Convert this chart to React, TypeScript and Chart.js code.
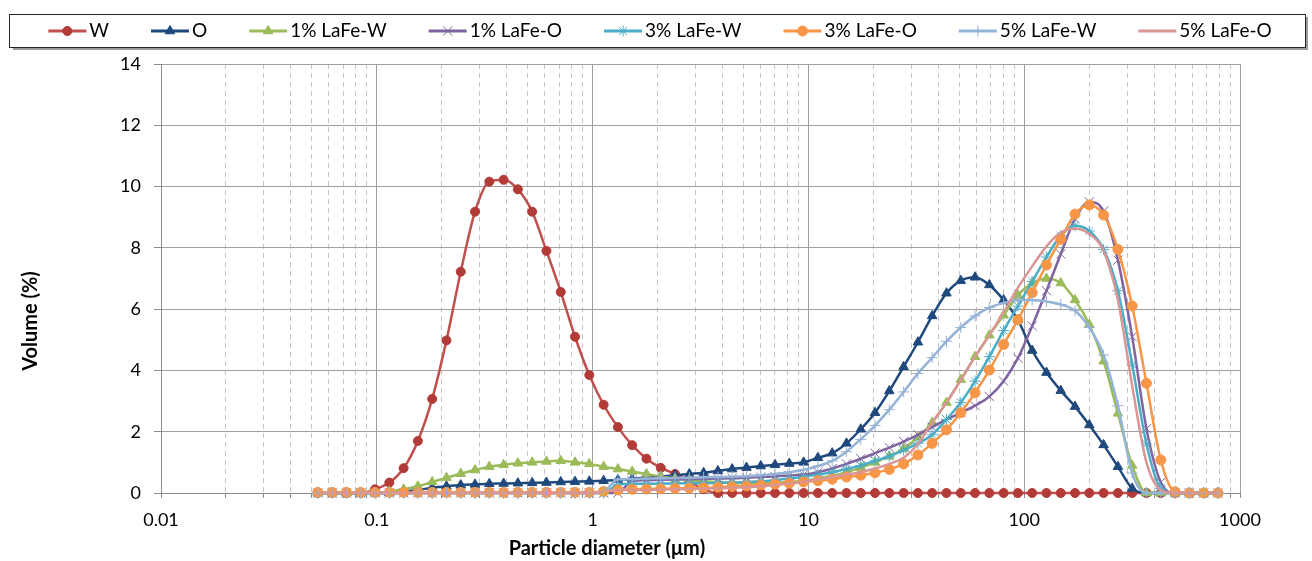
import React, { useEffect, useRef } from 'react';
import { Chart, registerables } from 'chart.js';

Chart.register(...registerables);

// ---- DATA ----
const sizes = [
  0.0533, 0.0621, 0.0723, 0.0843, 0.0981, 0.1143, 0.1331, 0.155, 0.1806, 0.2103,
  0.2449, 0.2852, 0.3322, 0.3869, 0.4506, 0.5248, 0.6112, 0.7118, 0.829, 0.9656,
  1.125, 1.31, 1.525, 1.777, 2.069, 2.41, 2.807, 3.269, 3.807, 4.434,
  5.164, 6.015, 7.005, 8.158, 9.502, 11.07, 12.89, 15.01, 17.48, 20.36,
  23.71, 27.62, 32.17, 37.46, 43.63, 50.82, 59.18, 68.93, 80.28, 93.5,
  108.9, 126.8, 147.7, 172.0, 200.3, 233.3, 271.8, 316.5, 368.6, 429.4,
  500.0, 582.4, 678.2, 789.9,
];

const seriesW = [
  0, 0, 0, 0, 0.12, 0.34, 0.81, 1.7, 3.07, 4.98,
  7.22, 9.18, 10.16, 10.22, 9.91, 9.18, 7.9, 6.56, 5.1, 3.85,
  2.88, 2.15, 1.56, 1.12, 0.82, 0.62, 0.38, 0.12, 0, 0,
  0, 0, 0, 0, 0, 0, 0, 0, 0, 0,
  0, 0, 0, 0, 0, 0, 0, 0, 0, 0,
  0, 0, 0, 0, 0, 0, 0, 0, 0, 0,
  0, 0, 0, 0,
];
const seriesO = [
  0, 0, 0, 0, 0, 0, 0.05, 0.1, 0.17, 0.22,
  0.26, 0.28, 0.3, 0.31, 0.32, 0.33, 0.34, 0.36, 0.37, 0.38,
  0.4, 0.43, 0.46, 0.5, 0.54, 0.58, 0.62, 0.66, 0.72, 0.78,
  0.83, 0.88, 0.92, 0.96, 1.0, 1.15, 1.3, 1.62, 2.08, 2.62,
  3.33, 4.12, 4.92, 5.78, 6.52, 6.93, 7.04, 6.79, 6.3, 5.65,
  4.65, 3.93, 3.34, 2.82, 2.22, 1.57, 0.86, 0.15, 0, 0,
  0, 0, 0, 0,
];
const series1W = [
  0, 0, 0, 0, 0, 0.05, 0.12, 0.22, 0.36, 0.5,
  0.63, 0.75, 0.86, 0.92, 0.97, 1.0, 1.03, 1.05, 1.0, 0.95,
  0.86, 0.78, 0.7, 0.62, 0.54, 0.47, 0.42, 0.38, 0.35, 0.33,
  0.32, 0.32, 0.33, 0.36, 0.4, 0.47, 0.56, 0.68, 0.83, 1.0,
  1.2, 1.45, 1.82, 2.3, 2.95, 3.7, 4.45, 5.15, 5.8, 6.45,
  6.85, 7.0, 6.85, 6.3, 5.5, 4.3, 2.6, 0.9, 0, 0,
  0, 0, 0, 0,
];
const series1O = [
  0, 0, 0, 0, 0, 0, 0, 0, 0, 0,
  0, 0, 0, 0, 0, 0, 0, 0, 0, 0,
  0, 0, 0.4, 0.42, 0.43, 0.44, 0.45, 0.46, 0.47, 0.48,
  0.5, 0.52, 0.54, 0.57, 0.6, 0.68, 0.8, 0.95, 1.12, 1.3,
  1.48, 1.68, 1.9, 2.15, 2.4, 2.62, 2.85, 3.15, 3.65, 4.4,
  5.45, 6.6, 7.8, 8.95, 9.5, 9.2, 7.6, 5.1, 2.1, 0.35,
  0, 0, 0, 0,
];
const series3W = [
  0, 0, 0, 0, 0, 0, 0, 0, 0, 0,
  0, 0, 0, 0, 0, 0, 0, 0, 0, 0,
  0, 0.28, 0.3, 0.3, 0.31, 0.31, 0.32, 0.32, 0.33, 0.34,
  0.36, 0.38, 0.42, 0.47, 0.53, 0.6, 0.68, 0.78, 0.9, 1.05,
  1.2, 1.4, 1.62, 1.9, 2.4, 2.95, 3.65, 4.45, 5.3, 6.1,
  6.9, 7.7, 8.4, 8.72, 8.55, 7.95, 6.6, 4.2, 1.6, 0.15,
  0, 0, 0, 0,
];
const series3O = [
  0.02, 0.02, 0.02, 0.02, 0.02, 0.02, 0.02, 0.02, 0.02, 0.02,
  0.02, 0.02, 0.02, 0.02, 0.02, 0.02, 0.02, 0.02, 0.02, 0.02,
  0.05, 0.1, 0.12, 0.13, 0.14, 0.15, 0.16, 0.17, 0.19, 0.21,
  0.23, 0.26, 0.29, 0.32, 0.36, 0.4, 0.45, 0.52, 0.58, 0.66,
  0.77, 0.95, 1.24, 1.62, 2.06, 2.62, 3.27, 4.01, 4.85, 5.65,
  6.54, 7.44, 8.28, 9.1, 9.4, 9.07, 7.95, 6.1, 3.58, 1.08,
  0.04, 0, 0, 0,
];
const series5W = [
  0, 0, 0, 0, 0, 0, 0, 0, 0, 0,
  0, 0, 0, 0, 0, 0, 0, 0, 0, 0,
  0.05, 0.45, 0.46, 0.47, 0.48, 0.49, 0.5, 0.51, 0.52, 0.53,
  0.55, 0.58, 0.62, 0.68, 0.76, 0.88, 1.05, 1.35, 1.75, 2.2,
  2.72, 3.3, 3.9, 4.42, 4.95, 5.4, 5.78, 6.05, 6.2, 6.3,
  6.3, 6.25, 6.15, 5.95, 5.4, 4.5, 2.85, 0.65, 0, 0,
  0, 0, 0, 0,
];
const series5O = [
  0, 0, 0, 0, 0, 0, 0, 0, 0, 0,
  0, 0, 0, 0, 0, 0, 0, 0, 0, 0,
  0.05, 0.1, 0.1, 0.1, 0.11, 0.12, 0.13, 0.14, 0.15, 0.17,
  0.19, 0.22, 0.26, 0.31, 0.37, 0.44, 0.52, 0.6, 0.68, 0.8,
  0.95, 1.15, 1.6, 2.3, 2.95, 3.68, 4.45, 5.15, 5.9, 6.7,
  7.4, 8.05, 8.5, 8.62, 8.45, 7.9, 6.3, 3.5, 1.0, 0.1,
  0, 0, 0, 0,
];

const seriesNames = ['W', 'O', '1% LaFe-W', '1% LaFe-O', '3% LaFe-W', '3% LaFe-O', '5% LaFe-W', '5% LaFe-O'];
const seriesValues = [seriesW, seriesO, series1W, series1O, series3W, series3O, series5W, series5O];

const xTickValues = [0.01, 0.1, 1, 10, 100, 1000];
const xTickLabels = ['0.01', '0.1', '1', '10', '100', '1000'];
const yTickLabels = ['0', '2', '4', '6', '8', '10', '12', '14'];
const xAxisTitle = 'Particle diameter (μm)';
const yAxisTitle = 'Volume (%)';

// ---- STYLES ----
const FONT = 'Lato, "Liberation Sans", sans-serif';
type Sty = { line: string; marker: string; style: string | false; r: number; bw: number };
const styles: Sty[] = [
  { line: '#C0504D', marker: '#B23B38', style: 'circle', r: 4.5, bw: 1 },
  { line: '#1F497D', marker: '#1F497D', style: 'triangle', r: 5.5, bw: 1 },
  { line: '#9BBB59', marker: '#9BBB59', style: 'triangle', r: 5.5, bw: 1 },
  { line: '#8064A2', marker: '#8064A2', style: 'crossRot', r: 6.5, bw: 1 },
  { line: '#4BACC6', marker: '#4BACC6', style: 'star', r: 5.5, bw: 1 },
  { line: '#F79646', marker: '#F79646', style: 'circle', r: 5, bw: 1 },
  { line: '#95B3D7', marker: '#95B3D7', style: 'cross', r: 5.5, bw: 1 },
  { line: '#D99694', marker: '#D99694', style: false, r: 0, bw: 1 },
];

const isDecade = (v: number) => Math.abs(Math.log10(v) - Math.round(Math.log10(v))) < 1e-9;

function drawMarker(ctx: CanvasRenderingContext2D, s: Sty, x: number, y: number) {
  if (!s.style) return;
  const r = s.r;
  ctx.save();
  ctx.fillStyle = s.marker;
  ctx.strokeStyle = s.marker;
  ctx.lineWidth = s.bw;
  ctx.beginPath();
  if (s.style === 'circle') {
    ctx.arc(x, y, r, 0, Math.PI * 2);
    ctx.fill();
    ctx.stroke();
  } else if (s.style === 'triangle') {
    for (let i = 0; i < 3; i++) {
      const a = (i * 2 * Math.PI) / 3;
      const px = x + Math.sin(a) * r;
      const py = y - Math.cos(a) * r;
      if (i === 0) ctx.moveTo(px, py);
      else ctx.lineTo(px, py);
    }
    ctx.closePath();
    ctx.fill();
    ctx.stroke();
  } else {
    const d = r * Math.SQRT1_2;
    if (s.style === 'crossRot' || s.style === 'star') {
      ctx.moveTo(x - d, y - d);
      ctx.lineTo(x + d, y + d);
      ctx.moveTo(x - d, y + d);
      ctx.lineTo(x + d, y - d);
    }
    if (s.style === 'cross' || s.style === 'star') {
      ctx.moveTo(x, y - r);
      ctx.lineTo(x, y + r);
      ctx.moveTo(x - r, y);
      ctx.lineTo(x + r, y);
    }
    ctx.stroke();
  }
  ctx.restore();
}

const decorPlugin = {
  id: 'decor',
  beforeDraw(chart: any) {
    const ctx: CanvasRenderingContext2D = chart.ctx;
    ctx.save();
    ctx.fillStyle = '#ffffff';
    ctx.fillRect(0, 0, chart.width, chart.height);
    ctx.restore();
  },
  afterDraw(chart: any) {
    const ctx: CanvasRenderingContext2D = chart.ctx;
    ctx.save();
    // legend box with shadow
    ctx.strokeStyle = '#9a9a9a';
    ctx.lineWidth = 2;
    ctx.beginPath();
    ctx.moveTo(13, 49);
    ctx.lineTo(1307, 49);
    ctx.lineTo(1307, 17);
    ctx.stroke();
    ctx.strokeStyle = '#262626';
    ctx.lineWidth = 1;
    ctx.strokeRect(9.5, 14.5, 1296, 33);

    // legend items
    ctx.font = `19px ${FONT}`;
    ctx.textBaseline = 'middle';
    ctx.textAlign = 'left';
    const lineLen = 38;
    const gapText = 3;
    const gapItem = 42;
    const widths = seriesNames.map((n) => ctx.measureText(n).width);
    const total = widths.reduce((a, w) => a + lineLen + gapText + w, 0) + gapItem * (seriesNames.length - 1);
    let x = 660 - total / 2;
    const ly = 31;
    seriesNames.forEach((name, i) => {
      const s = styles[i];
      ctx.strokeStyle = s.line;
      ctx.lineWidth = 3;
      ctx.beginPath();
      ctx.moveTo(x, ly);
      ctx.lineTo(x + lineLen, ly);
      ctx.stroke();
      drawMarker(ctx, s, x + lineLen / 2, ly);
      ctx.fillStyle = '#000';
      ctx.fillText(name, x + lineLen + gapText, ly);
      x += lineLen + gapText + widths[i] + gapItem;
    });

    // axis titles
    ctx.font = `bold 20px ${FONT}`;
    ctx.fillStyle = '#000';
    ctx.textAlign = 'center';
    ctx.textBaseline = 'middle';
    ctx.fillText(xAxisTitle, 607, 549);
    ctx.translate(31, 321);
    ctx.rotate(-Math.PI / 2);
    ctx.fillText(yAxisTitle, 0, 0);
    ctx.restore();
  },
};

export default function App() {
  const ref = useRef<HTMLCanvasElement | null>(null);

  useEffect(() => {
    if (!ref.current) return;
    const datasets = seriesNames.map((name, i) => {
      const s = styles[i];
      return {
        label: name,
        data: sizes.map((x, k) => ({ x, y: seriesValues[i][k] })),
        borderColor: s.line,
        backgroundColor: s.marker,
        borderWidth: 2.5,
        pointStyle: s.style,
        pointRadius: s.r,
        pointBorderColor: s.marker,
        pointBackgroundColor: s.marker,
        pointBorderWidth: s.bw,
        pointHoverRadius: s.r,
        cubicInterpolationMode: 'monotone' as const,
        clip: false as const,
        order: seriesNames.length - 1 - i,
      };
    });

    const chart = new Chart(ref.current, {
      type: 'line',
      data: { datasets },
      plugins: [decorPlugin],
      options: {
        animation: false,
        responsive: false,
        devicePixelRatio: 1,
        layout: { padding: { top: 64, left: 0, right: 72, bottom: 0 } },
        plugins: {
          legend: { display: false },
          tooltip: { enabled: false },
        },
        scales: {
          x: {
            type: 'logarithmic',
            min: 0.01,
            max: 1000,
            afterBuildTicks: (scale: any) => {
              const t: { value: number; major: boolean }[] = [];
              xTickValues.forEach((d, j) => {
                if (j === xTickValues.length - 1) {
                  t.push({ value: d, major: true });
                  return;
                }
                for (let m = 1; m <= 9; m++) {
                  t.push({ value: parseFloat((m * d).toPrecision(6)), major: m === 1 });
                }
              });
              scale.ticks = t;
            },
            afterFit: (scale: any) => {
              scale.height = 68;
            },
            ticks: {
              autoSkip: false,
              maxRotation: 0,
              padding: 11,
              color: '#000',
              font: { family: FONT, size: 18 },
              callback: (v: any) => {
                const val = Number(v);
                const idx = xTickValues.findIndex((d) => Math.abs(d - val) / d < 1e-6);
                return idx >= 0 ? xTickLabels[idx] : '';
              },
            },
            grid: {
              color: (c: any) => (c.tick && isDecade(c.tick.value) ? '#a0a0a0' : '#c4c4c4'),
              tickColor: '#8a8a8a',
              lineWidth: 1,
              tickLength: 5,
            },
            border: {
              color: '#8a8a8a',
              width: 1,
              dash: (c: any) => (c.tick && !isDecade(c.tick.value) ? [5, 4] : []),
            },
          },
          y: {
            min: 0,
            max: 14,
            afterBuildTicks: (scale: any) => {
              scale.ticks = yTickLabels.map((l) => ({ value: Number(l) }));
            },
            afterFit: (scale: any) => {
              scale.width = 161;
            },
            ticks: {
              padding: 13,
              color: '#000',
              font: { family: FONT, size: 18 },
              callback: (v: any) => {
                const idx = yTickLabels.findIndex((l) => Number(l) === Number(v));
                return idx >= 0 ? yTickLabels[idx] : '';
              },
            },
            grid: {
              color: '#a0a0a0',
              tickColor: '#8a8a8a',
              lineWidth: 1,
              tickLength: 7,
            },
            border: { color: '#8a8a8a', width: 1 },
          },
        },
      } as any,
    });
    return () => chart.destroy();
  }, []);

  return (
    <div style={{ position: 'fixed', left: 0, top: 0, width: 1312, height: 561, background: '#fff' }}>
      <canvas ref={ref} width={1312} height={561} style={{ display: 'block', width: 1312, height: 561 }} />
    </div>
  );
}
